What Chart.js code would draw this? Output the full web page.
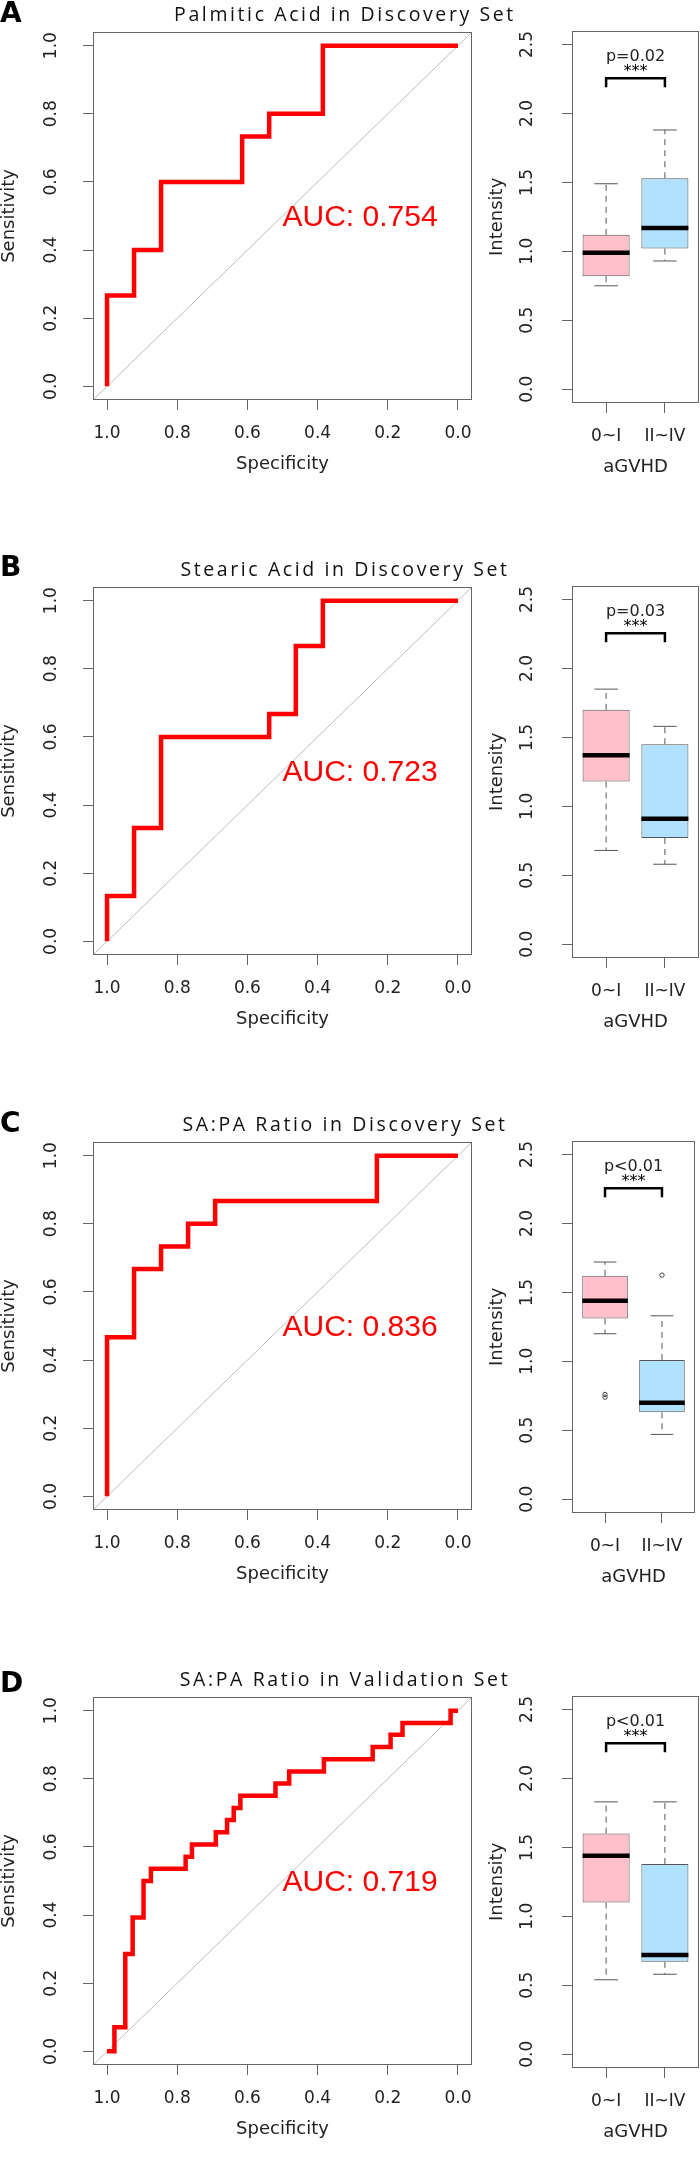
<!DOCTYPE html>
<html>
<head>
<meta charset="utf-8">
<title>ROC curves and aGVHD boxplots</title>
<script src="https://cdn.jsdelivr.net/npm/chart.js@4.4.0/dist/chart.umd.min.js"></script>
<style>
  html, body { margin: 0; padding: 0; background: #fff; }
  #page { position: relative; width: 700px; height: 2158px; overflow: hidden; }
  .panel { position: absolute; left: 0; width: 700px; height: 555px; }
  .panel canvas { position: absolute; top: 0; }
  .letter { position: absolute; left: 0; font: bold 28px "DejaVu Sans"; line-height: 28px; color: #000; }
  .title { position: absolute; left: 0; width: 690px; text-align: center; font: 19.5px "Open Sans"; letter-spacing: 2.6px; line-height: 19px; color: #111; white-space: nowrap; }
</style>
</head>
<body>
<div id="page"></div>
<script>
// Panel text
const panelLetters = ['A', 'B', 'C', 'D'];
const panelTitles = [
    'Palmitic Acid in Discovery Set',
    'Stearic Acid in Discovery Set',
    'SA:PA Ratio in Discovery Set',
    'SA:PA Ratio in Validation Set'
];
const aucLabels = ['AUC: 0.754', 'AUC: 0.723', 'AUC: 0.836', 'AUC: 0.719'];
const pLabels = ['p=0.02', 'p=0.03', 'p<0.01', 'p<0.01'];
const starLabel = '***';

// Axis ticks / categories
const rocTicks = [0, 0.2, 0.4, 0.6, 0.8, 1.0];
const intensityTicks = [0, 0.5, 1.0, 1.5, 2.0, 2.5];
const groups = ['0~I', 'II~IV'];

// ROC curve corners (specificity, sensitivity)
const specA = [1, 1, 0.923, 0.923, 0.846, 0.846, 0.615, 0.615, 0.538, 0.538, 0.385, 0.385, 0];
const sensA = [0, 0.267, 0.267, 0.4, 0.4, 0.6, 0.6, 0.733, 0.733, 0.8, 0.8, 1, 1];
const specB = [1, 1, 0.923, 0.923, 0.846, 0.846, 0.538, 0.538, 0.462, 0.462, 0.385, 0.385, 0];
const sensB = [0, 0.133, 0.133, 0.333, 0.333, 0.6, 0.6, 0.667, 0.667, 0.867, 0.867, 1, 1];
const specC = [1, 1, 0.923, 0.923, 0.846, 0.846, 0.769, 0.769, 0.692, 0.692, 0.231, 0.231, 0];
const sensC = [0, 0.467, 0.467, 0.667, 0.667, 0.733, 0.733, 0.8, 0.8, 0.867, 0.867, 1, 1];
const specD = [1, 0.979, 0.979, 0.948, 0.948, 0.927, 0.927, 0.896, 0.896, 0.875, 0.875, 0.776, 0.776,
    0.758, 0.758, 0.690, 0.690, 0.658, 0.658, 0.639, 0.639, 0.620, 0.620, 0.520, 0.520, 0.481, 0.481,
    0.382, 0.382, 0.243, 0.243, 0.192, 0.192, 0.158, 0.158, 0.021, 0.021, 0];
const sensD = [0, 0, 0.071, 0.071, 0.286, 0.286, 0.393, 0.393, 0.5, 0.5, 0.536, 0.536, 0.571,
    0.571, 0.607, 0.607, 0.643, 0.643, 0.679, 0.679, 0.714, 0.714, 0.75, 0.75, 0.786, 0.786, 0.821,
    0.821, 0.857, 0.857, 0.893, 0.893, 0.929, 0.929, 0.964, 0.964, 1, 1];

// Boxplot five-number summaries per group: [low whisker, Q1, median, Q3, high whisker]
const statsA = [[0.75, 0.82, 0.99, 1.12, 1.49], [0.93, 1.02, 1.17, 1.53, 1.88]];
const statsB = [[0.68, 1.18, 1.37, 1.70, 1.85], [0.58, 0.77, 0.91, 1.45, 1.58]];
const statsC = [[1.20, 1.31, 1.44, 1.62, 1.72], [0.47, 0.63, 0.70, 1.01, 1.33]];
const statsD = [[0.54, 1.10, 1.44, 1.60, 1.83], [0.58, 0.67, 0.72, 1.38, 1.83]];
const outliersA = [[], []];
const outliersB = [[], []];
const outliersC = [[0.74, 0.76], [1.625]];
const outliersD = [[], []];

// Layout / style constants
const ROC_MIN = -0.04, ROC_MAX = 1.04;
const INT_MIN = -0.1, INT_MAX = 2.6;
const CAT_MIN = 0.42, CAT_MAX = 2.58;
const AUC_POS = 0.5;
const BRACKET_TOP = 2.255, BRACKET_FOOT = 2.19, P_Y = 2.38, STAR_Y = 2.27;
const BOX_FILL = ['#ffc0cb', '#b0e2ff'];
const AXIS_GREY = '#666';
const TEXT_COL = '#222';
const PANEL_STEP = 555;
const letterTops = [-1, -2, -1, 4];

Chart.defaults.font.family = '"DejaVu Sans", sans-serif';
Chart.defaults.color = TEXT_COL;

// plot frame around the chart area
const frame = {
    id: 'frame',
    afterDraw(chart) {
        const { ctx, chartArea: a } = chart;
        ctx.save();
        ctx.strokeStyle = AXIS_GREY;
        ctx.lineWidth = 1;
        const l = Math.round(a.left) + 0.5, t = Math.round(a.top) + 0.5;
        const r = Math.round(a.right) - 0.5, b = Math.round(a.bottom) - 0.5;
        ctx.strokeRect(l, t, r - l, b - t);
        ctx.restore();
    }
};

const aucText = {
    id: 'aucText',
    afterDatasetsDraw(chart, args, opts) {
        const { ctx, scales: { x, y } } = chart;
        ctx.save();
        ctx.font = '30px "Liberation Sans", Arial, sans-serif';
        ctx.fillStyle = '#ff0000';
        ctx.textAlign = 'left';
        ctx.textBaseline = 'middle';
        ctx.fillText(opts.text, x.getPixelForValue(AUC_POS), y.getPixelForValue(AUC_POS) + 2);
        ctx.restore();
    }
};

const pText = {
    id: 'pText',
    afterDatasetsDraw(chart, args, opts) {
        const { ctx, scales: { x, y } } = chart;
        const cx = x.getPixelForValue(1.5);
        ctx.save();
        ctx.font = '16px "DejaVu Sans", sans-serif';
        ctx.textAlign = 'center';
        ctx.textBaseline = 'alphabetic';
        ctx.fillStyle = TEXT_COL;
        ctx.fillText(opts.text, cx, y.getPixelForValue(P_Y));
        ctx.fillStyle = '#000';
        ctx.fillText(starLabel, cx, y.getPixelForValue(STAR_Y));
        ctx.restore();
    }
};

function xAxis(min, max, ticks, fmt, title, reverse) {
    return {
        type: 'linear', min: min, max: max, reverse: reverse, offset: false,
        afterBuildTicks: s => { s.ticks = ticks.map(v => ({ value: v })); },
        afterFit: s => { s.height = 75; },
        ticks: { callback: fmt, autoSkip: false, maxRotation: 0, minRotation: 0, padding: 13.5, font: { size: 17 } },
        grid: { drawOnChartArea: false, drawTicks: true, tickLength: 10, color: AXIS_GREY, offset: false },
        border: { display: false },
        title: { display: true, text: title, font: { size: 18 }, padding: 0 }
    };
}

function yAxis(min, max, ticks, title, width, labelPad, titlePad) {
    return {
        type: 'linear', min: min, max: max,
        afterBuildTicks: s => { s.ticks = ticks.map(v => ({ value: v })); },
        afterFit: s => { s.width = width; },
        ticks: { callback: v => v.toFixed(1), autoSkip: false, minRotation: 90, maxRotation: 90,
                 crossAlign: 'center', padding: labelPad, font: { size: 17 } },
        grid: { drawOnChartArea: false, drawTicks: true, tickLength: 10, color: AXIS_GREY },
        border: { display: false },
        title: { display: true, text: title, font: { size: 18, lineHeight: 1 }, padding: { top: titlePad, bottom: 0 } }
    };
}

function rocChart(canvas, spec, sens, auc) {
    const curve = spec.map((s, i) => ({ x: s, y: sens[i] }));
    const diagonal = [{ x: ROC_MAX, y: 1 - ROC_MAX }, { x: ROC_MIN, y: 1 - ROC_MIN }];
    return new Chart(canvas, {
        type: 'scatter',
        data: {
            datasets: [
                { data: curve, showLine: true, borderColor: '#ff0000', borderWidth: 4.5,
                  pointRadius: 0, borderJoinStyle: 'miter', tension: 0 },
                { data: diagonal, showLine: true, borderColor: '#bdbdbd', borderWidth: 1, pointRadius: 0 }
            ]
        },
        options: {
            responsive: false, animation: false, events: [],
            layout: { padding: { left: 0, top: 32, right: 8, bottom: 0 } },
            plugins: { legend: { display: false }, tooltip: { enabled: false }, aucText: { text: auc } },
            scales: {
                x: xAxis(ROC_MIN, ROC_MAX, rocTicks, v => v.toFixed(1), 'Specificity', true),
                y: yAxis(ROC_MIN, ROC_MAX, rocTicks, 'Sensitivity', 93, 17.5, 0)
            }
        },
        plugins: [frame, aucText]
    });
}

function seg(points, color, width, dash) {
    return { data: points, showLine: true, borderColor: color, borderWidth: width,
             borderDash: dash || [], pointRadius: 0, borderCapStyle: 'butt', order: 0 };
}

function boxChart(canvas, stats, outliers, pLabel) {
    const datasets = [];
    const bracket = [
        { x: 1, y: BRACKET_FOOT }, { x: 1, y: BRACKET_TOP },
        { x: 2, y: BRACKET_TOP }, { x: 2, y: BRACKET_FOOT }
    ];
    datasets.push(Object.assign(seg(bracket, '#000', 2.5), { borderJoinStyle: 'miter' }));
    stats.forEach((s, i) => {
        const cx = i + 1;
        const [lo, q1, med, q3, hi] = s;
        datasets.push(seg([{ x: cx - 0.4, y: med }, { x: cx + 0.4, y: med }], '#000', 4.5));
        datasets.push(seg([{ x: cx, y: q3 }, { x: cx, y: hi }], '#555', 1, [6, 5]));
        datasets.push(seg([{ x: cx, y: q1 }, { x: cx, y: lo }], '#555', 1, [6, 5]));
        datasets.push(seg([{ x: cx - 0.2, y: hi }, { x: cx + 0.2, y: hi }], '#555', 1));
        datasets.push(seg([{ x: cx - 0.2, y: lo }, { x: cx + 0.2, y: lo }], '#555', 1));
    });
    const outPts = [];
    outliers.forEach((arr, i) => arr.forEach(v => outPts.push({ x: i + 1, y: v })));
    datasets.push({ data: outPts, pointRadius: 2.2, pointStyle: 'circle', pointBackgroundColor: 'rgba(0,0,0,0)',
                    pointBorderColor: '#444', pointBorderWidth: 1, order: 0 });
    datasets.push({
        type: 'bar',
        data: stats.map((s, i) => ({ x: i + 1, y: [s[1], s[3]] })),
        backgroundColor: BOX_FILL, borderColor: '#555', borderWidth: 1, borderSkipped: false,
        barPercentage: 0.8, categoryPercentage: 1, order: 1
    });
    return new Chart(canvas, {
        type: 'scatter',
        data: { datasets: datasets },
        options: {
            responsive: false, animation: false, events: [],
            layout: { padding: { left: 0, top: 29, right: 1, bottom: 0 } },
            plugins: { legend: { display: false }, tooltip: { enabled: false }, pText: { text: pLabel } },
            scales: {
                x: xAxis(CAT_MIN, CAT_MAX, [1, 2], v => groups[v - 1], 'aGVHD', false),
                y: yAxis(INT_MIN, INT_MAX, intensityTicks, 'Intensity', 92, 20.5, 8)
            }
        },
        plugins: [frame, pText]
    });
}

const rocSpecs = [specA, specB, specC, specD];
const rocSens = [sensA, sensB, sensC, sensD];
const boxStats = [statsA, statsB, statsC, statsD];
const boxOutliers = [outliersA, outliersB, outliersC, outliersD];

const page = document.getElementById('page');
panelLetters.forEach((letter, i) => {
    const panel = document.createElement('div');
    panel.className = 'panel';
    panel.style.top = (i * PANEL_STEP) + 'px';

    const rocCanvas = document.createElement('canvas');
    rocCanvas.width = 480; rocCanvas.height = 475;
    rocCanvas.style.left = '0px';
    panel.appendChild(rocCanvas);

    const boxCanvas = document.createElement('canvas');
    boxCanvas.width = 220; boxCanvas.height = 478;
    boxCanvas.style.left = '480px';
    panel.appendChild(boxCanvas);

    const title = document.createElement('div');
    title.className = 'title';
    title.style.top = '3.5px';
    title.textContent = panelTitles[i];
    panel.appendChild(title);

    const lab = document.createElement('div');
    lab.className = 'letter';
    lab.style.top = letterTops[i] + 'px';
    lab.textContent = letter;
    panel.appendChild(lab);

    page.appendChild(panel);

    rocChart(rocCanvas, rocSpecs[i], rocSens[i], aucLabels[i]);
    boxChart(boxCanvas, boxStats[i], boxOutliers[i], pLabels[i]);
});
</script>
</body>
</html>
